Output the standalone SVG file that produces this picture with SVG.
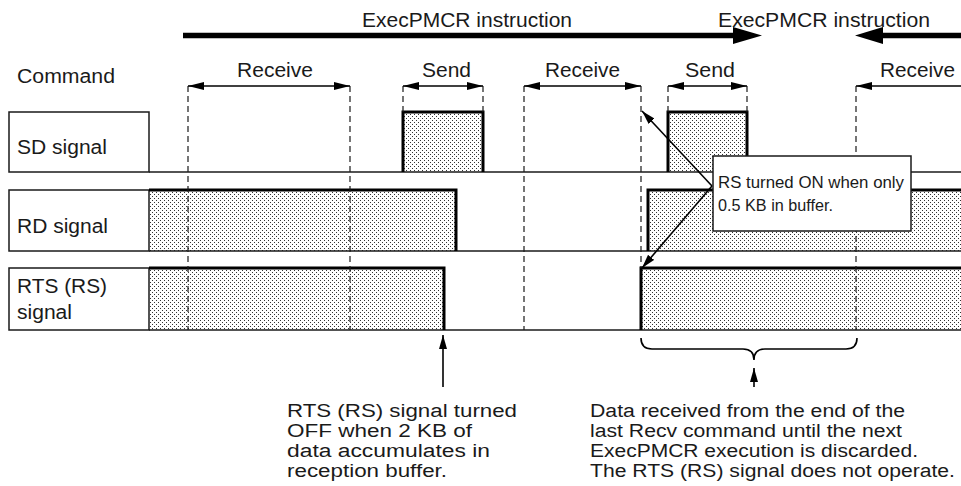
<svg xmlns="http://www.w3.org/2000/svg" width="961" height="486" viewBox="0 0 961 486">
<style>
text{font-family:"Liberation Sans",Arial,Helvetica,sans-serif;fill:#1a1a1a}
.t20{font-size:20px}
.t18{font-size:18px}
.t16{font-size:16.5px}
.box{fill:#fff;stroke:#1a1a1a;stroke-width:1.5}
.base{fill:none;stroke:#1a1a1a;stroke-width:1.6}
.hi{fill:url(#dots);stroke:none}
.edge{fill:none;stroke:#000;stroke-width:3;stroke-linejoin:miter}
.dash{fill:none;stroke:#1a1a1a;stroke-width:1.2;stroke-dasharray:6,4}
.dim{fill:none;stroke:#000;stroke-width:1.6}
.thin{fill:none;stroke:#000;stroke-width:1.6}
.fat{fill:none;stroke:#000;stroke-width:5.5}
</style>
<defs>
<pattern id="dots" width="4" height="4" patternUnits="userSpaceOnUse">
<rect width="4" height="4" fill="#fff"/>
<rect x="0" y="0" width="1" height="1" fill="#333"/>
<rect x="2" y="2" width="1" height="1" fill="#333"/>
</pattern>
<marker id="ah" viewBox="0 0 16 8" refX="16" refY="4" markerWidth="16" markerHeight="8" markerUnits="userSpaceOnUse" orient="auto-start-reverse">
<path d="M0,0 L16,4 L0,8 Z" fill="#000"/>
</marker>
<marker id="ah2" viewBox="0 0 14 8" refX="14" refY="4" markerWidth="14" markerHeight="8" markerUnits="userSpaceOnUse" orient="auto">
<path d="M0,0 L14,4 L0,8 Z" fill="#000"/>
</marker>
</defs>
<rect width="961" height="486" fill="#fff"/>

<!-- signal fills -->
<g id="fills">
<rect class="hi" x="403" y="112" width="80" height="60"/>
<rect class="hi" x="668" y="112" width="79" height="60"/>
<rect class="hi" x="149" y="190" width="307" height="61"/>
<rect class="hi" x="648" y="190" width="313" height="61"/>
<rect class="hi" x="149" y="268" width="295" height="62"/>
<rect class="hi" x="641" y="268" width="320" height="62"/>
</g>

<g id="sd-label"><rect class="box" x="9" y="112" width="140" height="60"/><text class="t20" x="17" y="154" textLength="90" lengthAdjust="spacingAndGlyphs">SD signal</text></g>
<g id="rd-label"><rect class="box" x="9" y="190" width="140" height="61"/><text class="t20" x="17" y="233" textLength="91" lengthAdjust="spacingAndGlyphs">RD signal</text></g>
<g id="rts-label"><rect class="box" x="9" y="268" width="140" height="62"/><text class="t20" x="17" y="293" textLength="90" lengthAdjust="spacingAndGlyphs">RTS (RS)</text><text class="t20" x="17" y="319" textLength="55" lengthAdjust="spacingAndGlyphs">signal</text></g>

<g id="signals">
<line class="base" x1="149" y1="172" x2="961" y2="172"/>
<line class="base" x1="149" y1="251" x2="961" y2="251"/>
<line class="base" x1="149" y1="330" x2="961" y2="330"/>
<path class="edge" d="M403,172 V112 H483 V172"/>
<path class="edge" d="M668,172 V112 H747 V172"/>
<path class="edge" d="M149,190 H456 V251"/>
<path class="edge" d="M648,251 V190 H961"/>
<path class="edge" d="M149,268 H444 V330"/>
<path class="edge" d="M641,330 V268 H961"/>
</g>

<g id="connectors">
<line class="dash" x1="188" y1="86" x2="188" y2="330"/>
<line class="dash" x1="350" y1="86" x2="350" y2="330"/>
<line class="dash" x1="403" y1="86" x2="403" y2="112"/>
<line class="dash" x1="483" y1="86" x2="483" y2="112"/>
<line class="dash" x1="524" y1="86" x2="524" y2="330"/>
<line class="dash" x1="641" y1="86" x2="641" y2="268"/>
<line class="dash" x1="668" y1="86" x2="668" y2="112"/>
<line class="dash" x1="747" y1="86" x2="747" y2="112"/>
<line class="dash" x1="856" y1="86" x2="856" y2="330"/>
<line class="dim" x1="188" y1="86" x2="350" y2="86" marker-start="url(#ah)" marker-end="url(#ah)"/>
<line class="dim" x1="403" y1="86" x2="483" y2="86" marker-start="url(#ah)" marker-end="url(#ah)"/>
<line class="dim" x1="524" y1="86" x2="641" y2="86" marker-start="url(#ah)" marker-end="url(#ah)"/>
<line class="dim" x1="668" y1="86" x2="747" y2="86" marker-start="url(#ah)" marker-end="url(#ah)"/>
<line class="dim" x1="961" y1="86" x2="856" y2="86" marker-end="url(#ah)"/>
<line class="fat" x1="183" y1="35.5" x2="735" y2="35.5"/>
<path d="M733,27 L762,35.5 L733,44 Z" fill="#000"/>
<line class="fat" x1="880" y1="35.5" x2="961" y2="35.5"/>
<path d="M883,27 L855,35.5 L883,44 Z" fill="#000"/>
<line class="thin" x1="712" y1="186" x2="642" y2="111" marker-end="url(#ah2)"/>
<line class="thin" x1="712" y1="186" x2="642" y2="268" marker-end="url(#ah2)"/>
<line class="thin" x1="443" y1="387" x2="443" y2="335" marker-end="url(#ah2)"/>
<line class="thin" x1="754" y1="387" x2="754" y2="368" marker-end="url(#ah2)"/>
<path class="thin" d="M641,338 Q641,349 652,349 L743,349 Q754,349 754,360 Q754,349 765,349 L846,349 Q857,349 857,338"/>
</g>

<g id="top-labels">
<text class="t20" x="362" y="27" textLength="210" lengthAdjust="spacingAndGlyphs">ExecPMCR instruction</text>
<text class="t20" x="718" y="27" textLength="212" lengthAdjust="spacingAndGlyphs">ExecPMCR instruction</text>
<text class="t20" x="17" y="83" textLength="98" lengthAdjust="spacingAndGlyphs">Command</text>
<text class="t20" x="237" y="77" textLength="76" lengthAdjust="spacingAndGlyphs">Receive</text>
<text class="t20" x="422" y="77" textLength="49" lengthAdjust="spacingAndGlyphs">Send</text>
<text class="t20" x="545" y="77" textLength="75" lengthAdjust="spacingAndGlyphs">Receive</text>
<text class="t20" x="685" y="77" textLength="50" lengthAdjust="spacingAndGlyphs">Send</text>
<text class="t20" x="880" y="77" textLength="75" lengthAdjust="spacingAndGlyphs">Receive</text>
</g>

<g id="callout">
<rect class="box" x="713" y="156" width="198" height="75"/>
<text class="t16" x="718" y="188" textLength="186" lengthAdjust="spacingAndGlyphs">RS turned ON when only</text>
<text class="t16" x="718" y="211" textLength="115" lengthAdjust="spacingAndGlyphs">0.5 KB in buffer.</text>
</g>

<g id="note-off">
<text class="t18" x="287" y="417" textLength="230" lengthAdjust="spacingAndGlyphs">RTS (RS) signal turned</text>
<text class="t18" x="287" y="437" textLength="185" lengthAdjust="spacingAndGlyphs">OFF when 2 KB of</text>
<text class="t18" x="287" y="457" textLength="203" lengthAdjust="spacingAndGlyphs">data accumulates in</text>
<text class="t18" x="287" y="477" textLength="160" lengthAdjust="spacingAndGlyphs">reception buffer.</text>
</g>

<g id="note-discard">
<text class="t18" x="590" y="417" textLength="315" lengthAdjust="spacingAndGlyphs">Data received from the end of the</text>
<text class="t18" x="590" y="437" textLength="312" lengthAdjust="spacingAndGlyphs">last Recv command until the next</text>
<text class="t18" x="590" y="457" textLength="328" lengthAdjust="spacingAndGlyphs">ExecPMCR execution is discarded.</text>
<text class="t18" x="590" y="477" textLength="365" lengthAdjust="spacingAndGlyphs">The RTS (RS) signal does not operate.</text>
</g>
</svg>
